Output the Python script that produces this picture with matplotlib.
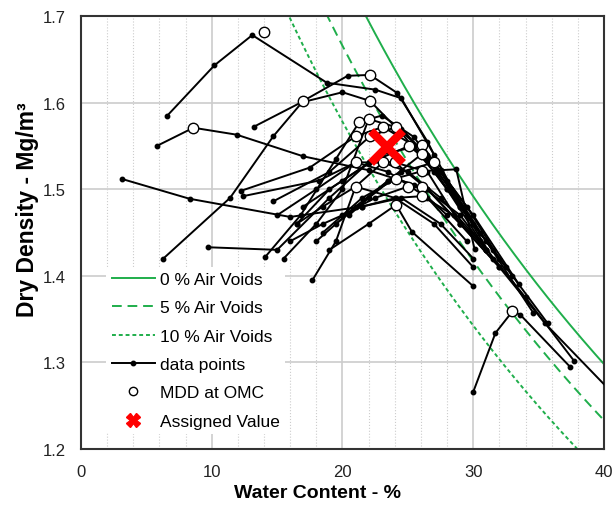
import matplotlib.pyplot as plt
import numpy as np
from matplotlib.lines import Line2D

plt.rcParams["font.family"] = ["Liberation Sans", "DejaVu Sans"]

# specific gravity used for the air-voids lines
GS = 2.70
AIR_VOIDS = [0, 5, 10]
AIR_STYLES = ["-", (0, (5, 3)), (0, (2, 1.5))]

# compaction curves: (water content %, dry density)
curve_w = [
    [6.6, 10.2, 13.1, 18.8, 22.5, 24.5, 27.0, 29.5],
    [5.8, 8.6, 11.9, 17.0, 22.0, 25.5, 28.0],
    [3.1, 8.3, 16.0, 21.5, 24.5, 27.5, 30.0],
    [6.3, 11.4, 14.7, 17.0, 20.4, 22.1, 24.2, 26.5, 29.0, 32.0],
    [13.2, 16.8, 20.0, 22.1, 24.5, 27.0, 30.5],
    [9.7, 15.0, 19.0, 22.0, 24.0, 26.5, 29.0],
    [14.1, 16.8, 19.5, 21.3, 23.0, 25.5, 28.0, 31.5],
    [15.5, 18.0, 20.0, 22.0, 24.5, 27.0, 30.0, 33.5],
    [17.7, 19.5, 21.0, 23.1, 25.0, 27.5, 30.5, 34.0, 37.7],
    [12.2, 17.5, 21.0, 23.1, 25.5, 28.0, 31.0],
    [12.4, 18.2, 21.0, 24.0, 26.5, 29.0, 32.0],
    [14.7, 19.0, 22.1, 24.1, 26.5, 29.0, 32.5, 35.7],
    [30.0, 31.7, 33.0, 33.6, 37.4],
    [19.0, 22.0, 24.1, 25.3, 30.0],
    [20.5, 23.5, 26.1, 27.5, 28.7, 30.1],
    [18.5, 21.5, 24.1, 26.5, 29.0, 32.0, 35.5, 40.5],
    [16.5, 19.0, 22.0, 25.1, 27.5, 30.0, 33.0],
    [17.0, 20.0, 23.0, 26.1, 28.0, 31.0, 34.6],
    [18.0, 21.0, 23.5, 26.1, 28.3, 31.5],
    [19.5, 22.0, 24.5, 27.0, 29.5, 32.0],
    [20.0, 22.5, 25.0, 26.1, 29.0, 31.0],
    [16.0, 18.5, 21.5, 24.1, 26.1, 28.5, 31.0],
    [16.5, 18.5, 21.0, 24.0, 27.0, 30.0],
    [15.0, 18.0, 21.0, 23.5, 26.5, 29.5],
]
curve_rho = [
    [1.585, 1.643, 1.678, 1.623, 1.615, 1.605, 1.540, 1.470],
    [1.550, 1.571, 1.563, 1.538, 1.522, 1.505, 1.470],
    [1.512, 1.489, 1.468, 1.480, 1.490, 1.460, 1.420],
    [1.420, 1.490, 1.561, 1.602, 1.631, 1.632, 1.611, 1.555, 1.480, 1.420],
    [1.572, 1.600, 1.612, 1.602, 1.565, 1.520, 1.450],
    [1.433, 1.430, 1.490, 1.531, 1.531, 1.500, 1.460],
    [1.422, 1.470, 1.535, 1.578, 1.585, 1.560, 1.500, 1.430],
    [1.420, 1.460, 1.500, 1.581, 1.570, 1.530, 1.470, 1.390],
    [1.395, 1.440, 1.503, 1.531, 1.520, 1.490, 1.440, 1.375, 1.302],
    [1.498, 1.525, 1.561, 1.572, 1.550, 1.500, 1.430],
    [1.492, 1.510, 1.531, 1.531, 1.520, 1.460, 1.410],
    [1.486, 1.520, 1.561, 1.572, 1.540, 1.480, 1.410, 1.345],
    [1.266, 1.334, 1.359, 1.355, 1.295],
    [1.430, 1.460, 1.482, 1.451, 1.388],
    [1.470, 1.510, 1.521, 1.522, 1.523, 1.431],
    [1.450, 1.490, 1.512, 1.500, 1.460, 1.410, 1.345, 1.267],
    [1.460, 1.500, 1.530, 1.550, 1.520, 1.460, 1.400],
    [1.480, 1.510, 1.540, 1.551, 1.510, 1.440, 1.357],
    [1.440, 1.480, 1.510, 1.541, 1.500, 1.420],
    [1.460, 1.490, 1.520, 1.531, 1.480, 1.420],
    [1.470, 1.490, 1.503, 1.503, 1.470, 1.430],
    [1.440, 1.460, 1.480, 1.490, 1.492, 1.470, 1.430],
    [1.460, 1.480, 1.503, 1.490, 1.460, 1.410],
    [1.470, 1.500, 1.531, 1.520, 1.490, 1.440],
]

# MDD at OMC points
mdd_w = [14.0, 8.6, 17.0, 22.1, 22.1, 21.3, 22.0, 23.1, 24.1, 21.0, 22.1, 25.1, 26.1,
         21.0, 23.1, 24.0, 26.1, 27.0, 26.1, 24.1, 25.0, 21.0, 26.1, 26.1, 24.1, 33.0]
mdd_rho = [1.681, 1.571, 1.602, 1.632, 1.602, 1.578, 1.581, 1.572, 1.572, 1.561, 1.561, 1.550, 1.551,
           1.531, 1.531, 1.531, 1.541, 1.531, 1.521, 1.512, 1.503, 1.503, 1.503, 1.492, 1.482, 1.359]

assigned_w = 23.4
assigned_rho = 1.549

GREEN = "#1fae4b"

fig = plt.figure(figsize=(6.16, 5.10), dpi=100)
ax = fig.add_axes([0.1315, 0.1176, 0.849, 0.849])

w = np.linspace(0, 42, 300)
for va, ls in zip(AIR_VOIDS, AIR_STYLES):
    rho = GS * (1 - va / 100) / (1 + GS * w / 100)
    ax.plot(w, rho, color=GREEN, lw=1.4, ls=ls, zorder=2)

for cw, cr in zip(curve_w, curve_rho):
    ax.plot(cw, cr, color="black", lw=1.4, marker="o", ms=3.2, zorder=3)

ax.plot(mdd_w, mdd_rho, ls="none", marker="o", ms=7.5, mfc="white", mec="black",
        mew=1.0, zorder=4)
ax.plot(assigned_w, assigned_rho, ls="none", marker="x", ms=23, mew=6, color="red", zorder=5)

ax.set_xlim(0, 40)
ax.set_ylim(1.2, 1.7)
ax.set_xticks([0, 10, 20, 30, 40])
ax.set_xticks(np.arange(0, 41, 2), minor=True)
ax.set_yticks(np.arange(1.2, 1.71, 0.1))
ax.set_yticklabels([f"{v:.1f}" for v in np.arange(1.2, 1.71, 0.1)])
ax.grid(which="major", color="#cccccc", lw=1.2)
ax.grid(which="minor", axis="x", color="#cccccc", lw=0.8, ls=":")
ax.set_axisbelow(True)
ax.tick_params(which="both", length=0, labelsize=12, colors="#222222")
ax.tick_params(axis="y", pad=11)
ax.tick_params(axis="x", pad=11)
for s in ax.spines.values():
    s.set_linewidth(1.5)
    s.set_color("#333333")

ax.set_xlabel("Water Content - %", fontsize=14, fontweight="bold")
ax.set_ylabel("Dry Density - Mg/m³", fontsize=16.5, fontweight="bold")
ax.xaxis.set_label_coords(0.453, -0.081)
ax.yaxis.set_label_coords(-0.08, 0.554)

handles = [
    Line2D([], [], color=GREEN, lw=1.4, ls=AIR_STYLES[0]),
    Line2D([], [], color=GREEN, lw=1.4, ls=AIR_STYLES[1]),
    Line2D([], [], color=GREEN, lw=1.4, ls=AIR_STYLES[2]),
    Line2D([], [], color="black", lw=1.4, marker="o", ms=3.2),
    Line2D([], [], ls="none", marker="o", ms=6, mfc="white", mec="black"),
    Line2D([], [], ls="none", marker="X", ms=10, color="red"),
]
labels = ["0 % Air Voids", "5 % Air Voids", "10 % Air Voids", "data points",
          "MDD at OMC", "Assigned Value"]
leg = ax.legend(handles, labels, loc="lower left", bbox_to_anchor=(0.032, 0.015),
                frameon=True, fontsize=12.5, handlelength=2.5, labelspacing=0.76,
                handletextpad=0.3, borderpad=0.3)
leg.get_frame().set_edgecolor("none")
leg.get_frame().set_facecolor("white")
leg.get_frame().set_alpha(1)
leg.set_zorder(6)

fig.savefig("out.png", dpi=100)
